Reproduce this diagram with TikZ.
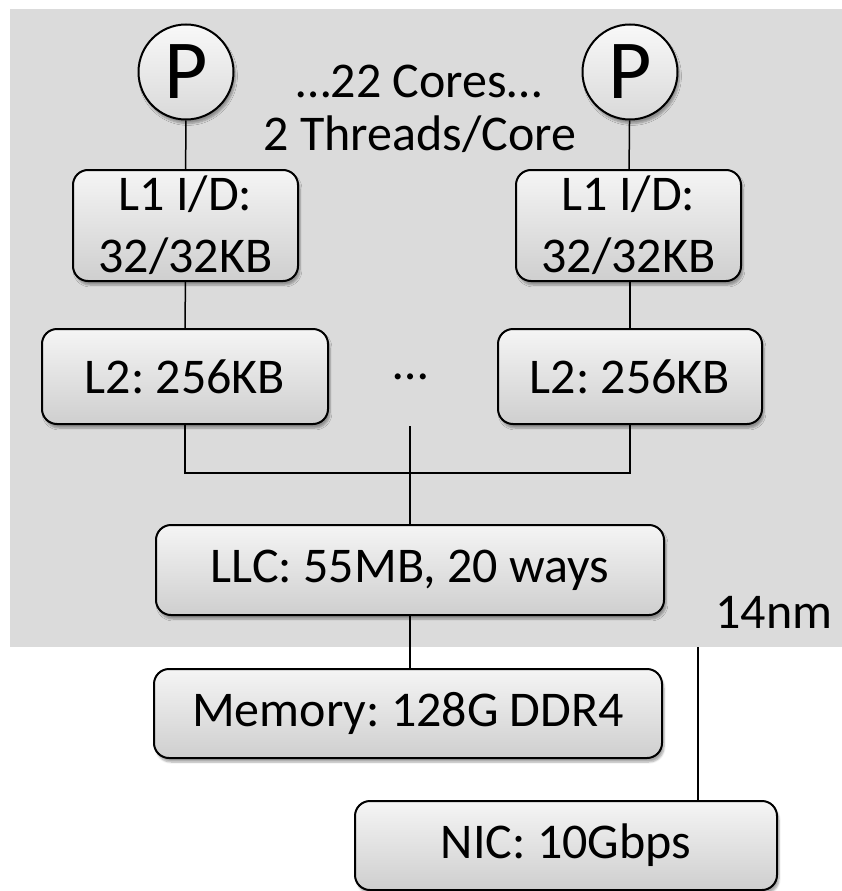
\documentclass[tikz,border=0pt]{standalone}
\usepackage{fontspec}
\setmainfont{Carlito}
\usetikzlibrary{shadows.blur}
\frenchspacing

\begin{document}
\begin{tikzpicture}[
    x=1pt, y=-1pt,
    font=\fontsize{50}{62}\selectfont,
    cache/.style={draw, rounded corners=15pt, line width=2pt,
                  top color=gray!8, bottom color=gray!38, align=center,
                  inner sep=0pt,
                  blur shadow={shadow xshift=2pt, shadow yshift=-4pt,
                               shadow blur steps=6, shadow opacity=35}},
    proc/.style={draw, circle, line width=2pt, minimum size=95pt,
                 inner sep=0pt, top color=gray!5, bottom color=gray!30,
                 font=\fontsize{84}{84}\selectfont,
                 blur shadow={shadow xshift=2pt, shadow yshift=-4pt,
                              shadow blur steps=6, shadow opacity=35}},
    wire/.style={line width=1.5pt},
  ]
  \useasboundingbox (0,0) rectangle (842,891);

  %% die background
  \fill[gray!28] (10,9) rectangle (842,647);
  \node[anchor=base east] (nm) at (836,628) {14nm};

  %% cores
  \node[proc] (Pl) at (186,72) {P};
  \node[proc] (Pr) at (630,72) {P};
  \node[anchor=base] (cores)   at (419,97)  {…22 Cores…};
  \node[anchor=base] (threads) at (420,150) {2 Threads/Core};

  \node[cache, minimum width=225pt, minimum height=111pt] (L1l) at (185.5,225.5)
    {L1 I/D:\\32/32KB};
  \node[cache, minimum width=225pt, minimum height=111pt] (L1r) at (628.5,225.5)
    {L1 I/D:\\32/32KB};

  \node[cache, minimum width=286pt, minimum height=95pt] (L2l) at (185,376.5)
    {L2: 256KB};
  \node[cache, minimum width=264pt, minimum height=95pt] (L2r) at (630,376.5)
    {L2: 256KB};
  \node (dots) at (411,377) {…};

  \node[cache, minimum width=508pt, minimum height=90pt] (LLC) at (410,570)
    {LLC: 55MB, 20 ways};
  \node[cache, minimum width=508pt, minimum height=89pt] (Mem) at (408,713.5)
    {Memory: 128G DDR4};
  \node[cache, minimum width=422pt, minimum height=89pt] (NIC) at (566,845.5)
    {NIC: 10Gbps};

  %% connectors
  \coordinate (bus)    at (410,473);
  \coordinate (busTop) at (410,426);
  \coordinate (die)    at (698,647);

  \draw[wire] (Pl) -- (L1l);
  \draw[wire] (Pr) -- (L1r);
  \draw[wire] (L1l) -- (L2l);
  \draw[wire] (L1r.south -| L2r) -- (L2r);
  \draw[wire] (L2l) |- (bus) -| (L2r);
  \draw[wire] (busTop) -- (LLC);
  \draw[wire] (LLC) -- (LLC |- Mem.north);
  \draw[wire] (die) -- (die |- NIC.north);

\end{tikzpicture}
\end{document}
